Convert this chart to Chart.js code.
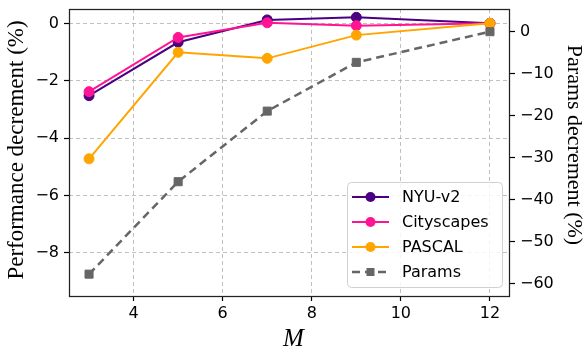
<!DOCTYPE html>
<html><head><meta charset="utf-8">
<script src="https://cdn.jsdelivr.net/npm/chart.js@4"></script>
<style>html,body{margin:0;padding:0;background:#fff}</style>
</head><body>
<canvas id="c" width="587" height="352" style="display:block"></canvas>
<script>
const M = [3, 5, 7, 9, 12];
const nyu = [-2.52, -0.66, 0.12, 0.21, 0];
const cityscapes = [-2.38, -0.49, 0.02, -0.08, 0];
const pascal = [-4.72, -1.01, -1.22, -0.41, 0];
const params = [-57.7, -35.7, -18.9, -7.3, 0];
const xTicks = [4, 6, 8, 10, 12];
const leftTicks = [0, -2, -4, -6, -8];
const rightTicks = [0, -10, -20, -30, -40, -50, -60];
const seriesLabels = ['NYU-v2', 'Cityscapes', 'PASCAL', 'Params'];
const leftTitle = 'Performance decrement (%)';
const rightTitle = 'Params decrement (%)';
const xTitle = 'M';

const fmt = v => (v < 0 ? '\u2212' + Math.abs(v) : String(v));
const pts = arr => M.map((m, i) => ({x: m, y: arr[i]}));
const tickFont = {family: '"DejaVu Sans"', size: 16};

function mk(label, data, color, axis, order, extra) {
  return Object.assign({
    label, data: pts(data), borderColor: color, backgroundColor: color,
    pointBackgroundColor: color, pointBorderColor: color, borderWidth: 2,
    pointRadius: 5, pointHoverRadius: 5, pointBorderWidth: 1,
    yAxisID: axis, order, tension: 0
  }, extra || {});
}

const decor = {
  id: 'decor',
  afterDraw(chart) {
    const ctx = chart.ctx, a = chart.chartArea;
    ctx.save();
    ctx.strokeStyle = '#222'; ctx.lineWidth = 1.25; ctx.setLineDash([]);
    ctx.strokeRect(a.left + 0.5, a.top + 0.5, a.right - a.left - 1, a.bottom - a.top);
    ctx.fillStyle = '#000';
    ctx.textAlign = 'center'; ctx.textBaseline = 'middle';
    ctx.save(); ctx.translate(17, 150); ctx.rotate(-Math.PI / 2);
    ctx.font = '23px "Liberation Serif"'; ctx.fillText(leftTitle, 0, 0); ctx.restore();
    ctx.save(); ctx.translate(574, 145); ctx.rotate(Math.PI / 2);
    ctx.font = '22px "Liberation Serif"'; ctx.fillText(rightTitle, 0, 0); ctx.restore();
    ctx.font = 'italic 25px "Liberation Serif"';
    ctx.fillText(xTitle, (a.left + a.right) / 2 + 4, 339);
    // legend
    const lx = 347, ly = 182, lw = 155, lh = 105;
    ctx.beginPath();
    ctx.roundRect(lx + 0.5, ly + 0.5, lw, lh, 4);
    ctx.fillStyle = 'rgba(255,255,255,0.85)'; ctx.fill();
    ctx.strokeStyle = '#d0d0d0'; ctx.lineWidth = 1; ctx.stroke();
    chart.data.datasets.forEach((ds, i) => {
      const y = ly + 15 + i * 25;
      ctx.save();
      ctx.strokeStyle = ds.borderColor; ctx.lineWidth = ds.borderWidth;
      ctx.setLineDash(ds.borderDash || []);
      ctx.beginPath(); ctx.moveTo(352, y); ctx.lineTo(389, y); ctx.stroke();
      ctx.setLineDash([]);
      ctx.fillStyle = ds.borderColor;
      if (ds.pointStyle === 'rect') {
        ctx.fillRect(370.5 - 4, y - 4, 8, 8);
      } else {
        ctx.beginPath(); ctx.arc(370.5, y, 5, 0, Math.PI * 2); ctx.fill();
      }
      ctx.restore();
      ctx.fillStyle = '#000'; ctx.textAlign = 'left';
      ctx.font = '16px "DejaVu Sans"';
      ctx.fillText(ds.label, 402, y + 1);
    });
    ctx.restore();
  }
};

const gridCommon = {color: 'rgba(176,176,176,0.8)', lineWidth: 1, tickLength: 5,
  tickColor: '#000', tickWidth: 1.2, tickBorderDash: []};
const noPad = s => { s.paddingTop = 0; s.paddingBottom = 0; s.paddingLeft = 0; s.paddingRight = 0; };

new Chart(document.getElementById('c'), {
  type: 'line',
  data: {datasets: [
    mk(seriesLabels[0], nyu, '#4b0082', 'y', 4),
    mk(seriesLabels[1], cityscapes, '#ff1493', 'y', 3),
    mk(seriesLabels[2], pascal, '#ffa500', 'y', 2),
    mk(seriesLabels[3], params, '#666666', 'y2', 1,
       {borderDash: [8, 5], borderWidth: 2.5, pointStyle: 'rect', pointRadius: 5.7, pointHoverRadius: 5.7})
  ]},
  options: {
    responsive: false, animation: false, devicePixelRatio: 1,
    layout: {padding: {top: 9, left: 0, right: 0, bottom: 0}},
    plugins: {legend: {display: false}, tooltip: {enabled: false}},
    scales: {
      x: {type: 'linear', min: 2.55, max: 12.45,
        afterBuildTicks: s => { s.ticks = xTicks.map(v => ({value: v})); },
        afterFit: s => { s.height = 56; noPad(s); },
        ticks: {font: tickFont, color: '#000', padding: 3, maxRotation: 0, callback: fmt},
        grid: Object.assign({}, gridCommon),
        border: {display: false, dash: [4, 3]}
      },
      y: {type: 'linear', position: 'left', min: -9.5, max: 0.5,
        afterBuildTicks: s => { s.ticks = leftTicks.map(v => ({value: v})); },
        afterFit: s => { s.width = 69; noPad(s); },
        ticks: {font: tickFont, color: '#000', padding: 5, callback: fmt},
        grid: Object.assign({}, gridCommon),
        border: {display: false, dash: [4, 3]}
      },
      y2: {type: 'linear', position: 'right', min: -62.9, max: 5.4,
        afterBuildTicks: s => { s.ticks = rightTicks.map(v => ({value: v})); },
        afterFit: s => { s.width = 77; noPad(s); },
        ticks: {font: tickFont, color: '#000', padding: 5, callback: fmt},
        grid: Object.assign({}, gridCommon, {drawOnChartArea: false}),
        border: {display: false}
      }
    }
  },
  plugins: [decor]
});
</script>
</body></html>
